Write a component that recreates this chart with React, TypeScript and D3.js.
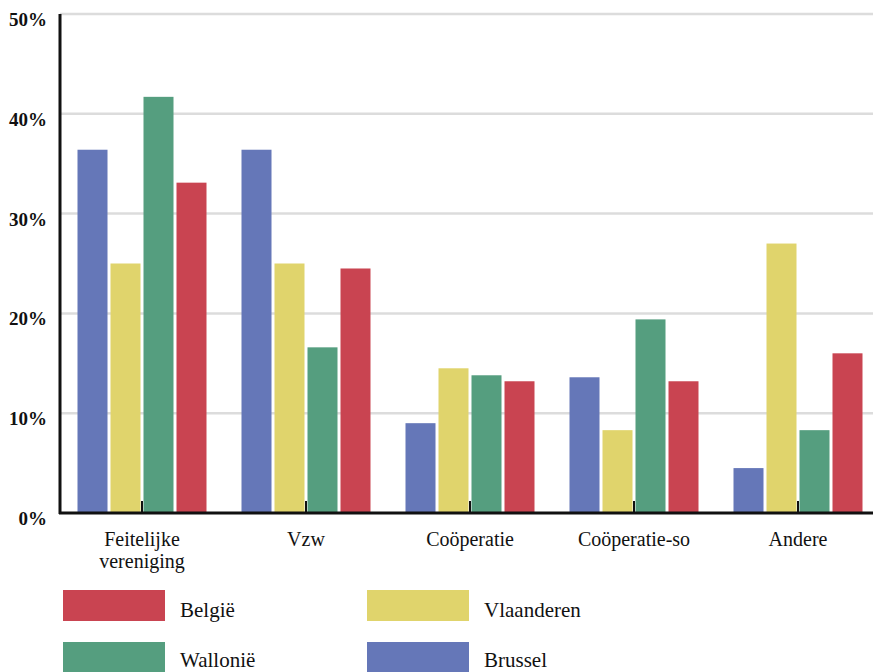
import React from "react";
import * as d3 from "d3";

const categories = ["Feitelijke vereniging", "Vzw", "Coöperatie", "Coöperatie-so", "Andere"];
const seriesNames = ["Brussel", "Vlaanderen", "Wallonië", "België"];
const seriesColors = ["#6577b8", "#e0d46c", "#559e7f", "#c94451"];
const brussel = [36.4, 36.4, 9.0, 13.6, 4.5];
const vlaanderen = [25.0, 25.0, 14.5, 8.3, 27.0];
const wallonie = [41.7, 16.6, 13.8, 19.4, 8.3];
const belgie = [33.1, 24.5, 13.2, 13.2, 16.0];
const seriesValues = [brussel, vlaanderen, wallonie, belgie];
const yTicks = [0, 10, 20, 30, 40, 50];

const legendItems = [
  { name: "België", color: "#c94451", col: 0, row: 0 },
  { name: "Vlaanderen", color: "#e0d46c", col: 1, row: 0 },
  { name: "Wallonië", color: "#559e7f", col: 0, row: 1 },
  { name: "Brussel", color: "#6577b8", col: 1, row: 1 },
];

const W = 873;
const H = 672;
const FONT = "'Liberation Serif', serif";

export default function App() {
  const x = d3.scaleBand<string>().domain(categories).range([60, 880]).paddingInner(0).paddingOuter(0);
  const y = d3.scaleLinear().domain([0, 50]).range([513, 14]);
  const barW = 30;
  const gap = 3;
  const groupW = seriesNames.length * barW + (seriesNames.length - 1) * gap;

  return (
    <svg width={W} height={H} style={{ position: "absolute", left: 0, top: 0 }} fontFamily={FONT}>
      <rect width={W} height={H} fill="#fff" />
      {yTicks.map((t) => (
        <g key={t}>
          {t > 0 && <line x1={60} x2={W} y1={y(t)} y2={y(t)} stroke="#dcdcdc" strokeWidth={2.5} />}
          <text x={47} y={y(t) + 12} textAnchor="end" fontSize={19} fontWeight="bold" fill="#111">
            {t}%
          </text>
        </g>
      ))}
      {categories.map((c) => {
        const cx = (x(c) as number) + x.bandwidth() / 2;
        return (
          <line key={c} x1={cx} x2={cx} y1={y(0)} y2={y(0) - 12} stroke="#111" strokeWidth={2} />
        );
      })}
      {categories.map((c, ci) => {
        const cx = (x(c) as number) + x.bandwidth() / 2;
        const start = cx - groupW / 2;
        return (
          <g key={c}>
            {seriesValues.map((vals, si) => (
              <rect
                key={si}
                x={start + si * (barW + gap)}
                y={y(vals[ci])}
                width={barW}
                height={y(0) - y(vals[ci])}
                fill={seriesColors[si]}
              />
            ))}
          </g>
        );
      })}
      <line x1={60} x2={60} y1={14} y2={514} stroke="#111" strokeWidth={3} />
      <line x1={59} x2={W} y1={y(0)} y2={y(0)} stroke="#111" strokeWidth={3} />
      {categories.map((c) => {
        const cx = (x(c) as number) + x.bandwidth() / 2;
        const words = c === "Feitelijke vereniging" ? ["Feitelijke", "vereniging"] : [c];
        return (
          <text key={c} x={cx} y={546} textAnchor="middle" fontSize={20} fill="#111">
            {words.map((w, i) => (
              <tspan key={i} x={cx} dy={i === 0 ? 0 : 22}>
                {w}
              </tspan>
            ))}
          </text>
        );
      })}
      {legendItems.map((it) => {
        const lx = 63 + it.col * 304;
        const ly = 590 + it.row * 52;
        return (
          <g key={it.name}>
            <rect x={lx} y={ly} width={102} height={31} fill={it.color} />
            <text x={lx + 117} y={ly + 27 - it.row * 2} fontSize={21} fill="#111">
              {it.name}
            </text>
          </g>
        );
      })}
    </svg>
  );
}
